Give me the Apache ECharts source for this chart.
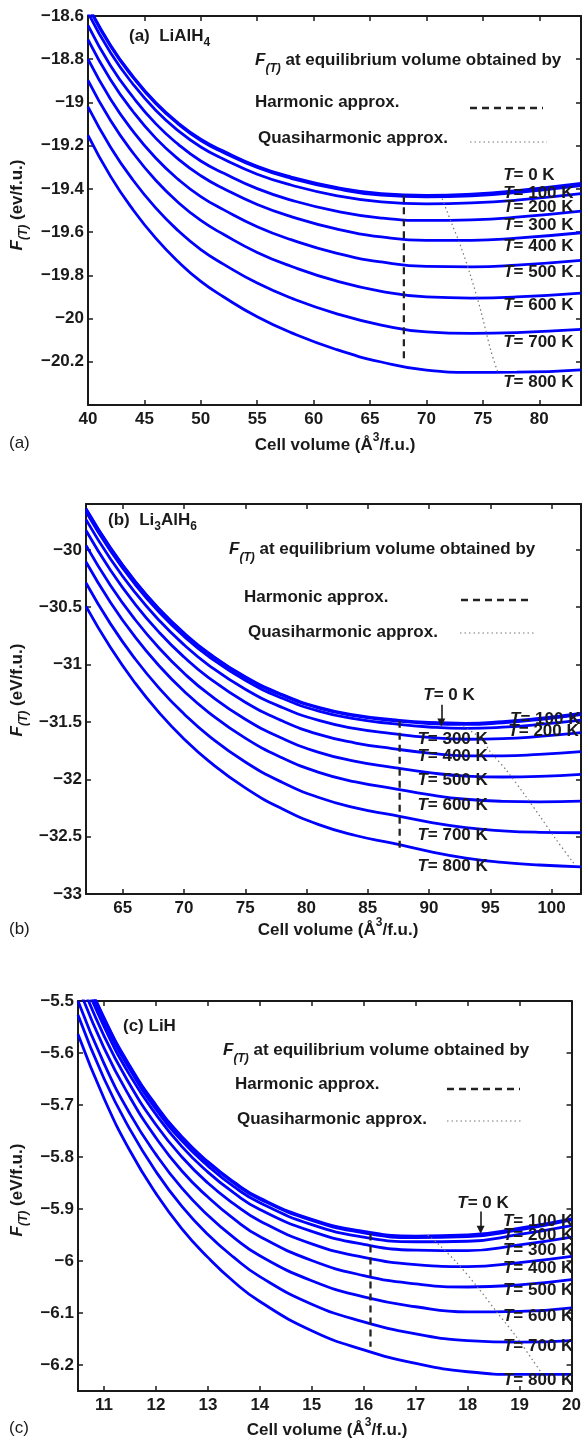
<!DOCTYPE html>
<html><head><meta charset="utf-8">
<script src="https://cdn.jsdelivr.net/npm/echarts@6/dist/echarts.min.js"></script>
<style>html,body{margin:0;padding:0;background:#fff}#c{width:584px;height:1439px}</style>
</head><body><div id="c"></div>
<script>
// ---------------- DATA ----------------
const temps = ['0','100','200','300','400','500','600','700','800'];

// (a) LiAlH4
const A_V = [40,42,44,46,48,50,52,55,58,62,66,70,74,78,83.7];
const A_T0   = [-18.55,-18.735,-18.88,-19.00,-19.095,-19.17,-19.225,-19.295,-19.345,-19.393,-19.422,-19.430,-19.424,-19.408,-19.375];
const A_T100 = [-18.555,-18.740,-18.885,-19.005,-19.100,-19.176,-19.231,-19.301,-19.351,-19.399,-19.429,-19.437,-19.432,-19.417,-19.385];
const A_T200 = [-18.585,-18.770,-18.916,-19.036,-19.131,-19.206,-19.262,-19.332,-19.382,-19.431,-19.460,-19.469,-19.465,-19.452,-19.422];
const A_T300 = [-18.643,-18.830,-18.976,-19.098,-19.194,-19.271,-19.327,-19.399,-19.452,-19.503,-19.535,-19.546,-19.543,-19.531,-19.503];
const A_T400 = [-18.709,-18.895,-19.043,-19.165,-19.262,-19.339,-19.398,-19.472,-19.528,-19.585,-19.622,-19.638,-19.638,-19.628,-19.603];
const A_T500 = [-18.800,-18.985,-19.134,-19.257,-19.356,-19.436,-19.496,-19.575,-19.635,-19.697,-19.738,-19.759,-19.761,-19.753,-19.731];
const A_T600 = [-18.898,-19.084,-19.234,-19.360,-19.463,-19.546,-19.610,-19.694,-19.758,-19.826,-19.874,-19.900,-19.905,-19.900,-19.882];
const A_T700 = [-19.021,-19.207,-19.360,-19.488,-19.594,-19.681,-19.748,-19.836,-19.905,-19.977,-20.030,-20.062,-20.069,-20.065,-20.050];
const A_T800 = [-19.152,-19.342,-19.497,-19.628,-19.737,-19.828,-19.899,-19.992,-20.065,-20.143,-20.201,-20.239,-20.249,-20.248,-20.237];
const A_harmV = [68, 68];
const A_harmF = [-19.43, -20.195];
const A_quasiV = [71.4, 72.2, 73.0, 73.9, 74.8, 75.7, 76.3];
const A_quasiF = [-19.445, -19.555, -19.66, -19.80, -19.96, -20.147, -20.245];
const A_labV = [76.8, 76.8, 76.8, 76.8, 76.8, 76.8, 76.8, 76.8, 76.8];
const A_labF = [-19.3375, -19.421, -19.484, -19.569, -19.665, -19.785, -19.939, -20.109, -20.294];

// (b) Li3AlH6
const B_V = [62,64,66,68,70,72,75,78,81,84,87,90,93,96,99,102.4];
const B_T0   = [-29.641,-29.982,-30.272,-30.517,-30.724,-30.898,-31.106,-31.261,-31.372,-31.440,-31.480,-31.505,-31.512,-31.497,-31.468,-31.425];
const B_T100 = [-29.646,-29.987,-30.277,-30.523,-30.730,-30.904,-31.112,-31.268,-31.379,-31.447,-31.488,-31.514,-31.522,-31.507,-31.479,-31.437];
const B_T200 = [-29.668,-30.010,-30.300,-30.546,-30.754,-30.928,-31.137,-31.293,-31.405,-31.474,-31.515,-31.544,-31.556,-31.546,-31.522,-31.484];
const B_T300 = [-29.736,-30.079,-30.371,-30.618,-30.827,-31.004,-31.215,-31.373,-31.487,-31.558,-31.601,-31.635,-31.651,-31.646,-31.626,-31.594];
const B_T400 = [-29.831,-30.177,-30.472,-30.722,-30.934,-31.113,-31.328,-31.490,-31.609,-31.684,-31.732,-31.771,-31.795,-31.796,-31.783,-31.759];
const B_T500 = [-29.961,-30.310,-30.607,-30.860,-31.075,-31.256,-31.476,-31.642,-31.765,-31.844,-31.896,-31.942,-31.972,-31.980,-31.975,-31.958];
const B_T600 = [-30.106,-30.458,-30.758,-31.014,-31.232,-31.416,-31.641,-31.812,-31.939,-32.023,-32.079,-32.134,-32.174,-32.192,-32.196,-32.191];
const B_T700 = [-30.289,-30.645,-30.949,-31.209,-31.430,-31.619,-31.849,-32.026,-32.159,-32.249,-32.311,-32.373,-32.422,-32.449,-32.462,-32.466];
const B_T800 = [-30.493,-30.852,-31.160,-31.423,-31.648,-31.840,-32.075,-32.257,-32.395,-32.490,-32.557,-32.628,-32.687,-32.724,-32.747,-32.763];
const B_harmV = [87.6, 87.6];
const B_harmF = [-31.49, -32.60];
const B_quasiV = [92.8, 94.2, 95.0, 96.3, 97.7, 99.1, 100.4, 101.8];
const B_quasiF = [-31.54, -31.64, -31.76, -31.92, -32.12, -32.33, -32.53, -32.73];
const B_arrowV = [91.0, 91.0];
const B_arrowF = [-31.35, -31.505];
const B_labV = [89.53, 96.61, 96.47, 89.05, 89.05, 89.05, 89.05, 89.05, 89.05];
const B_labF = [-31.264, -31.473, -31.584, -31.65, -31.802, -32.005, -32.223, -32.485, -32.762];

// (c) LiH
const C_V = [10.5,11,11.5,12,12.5,13,13.5,14,15,16,17,18,19,20];
const C_T0   = [-5.416,-5.532,-5.625,-5.700,-5.761,-5.809,-5.848,-5.879,-5.920,-5.943,-5.952,-5.950,-5.937,-5.919];
const C_T100 = [-5.418,-5.534,-5.627,-5.702,-5.763,-5.811,-5.850,-5.881,-5.922,-5.946,-5.955,-5.953,-5.940,-5.921];
const C_T200 = [-5.423,-5.539,-5.632,-5.708,-5.769,-5.817,-5.857,-5.888,-5.930,-5.954,-5.963,-5.962,-5.949,-5.932];
const C_T300 = [-5.432,-5.549,-5.643,-5.718,-5.780,-5.829,-5.869,-5.901,-5.943,-5.968,-5.979,-5.980,-5.969,-5.954];
const C_T400 = [-5.449,-5.567,-5.661,-5.738,-5.800,-5.850,-5.890,-5.923,-5.967,-5.993,-6.007,-6.011,-6.003,-5.991];
const C_T500 = [-5.471,-5.590,-5.685,-5.763,-5.827,-5.877,-5.919,-5.953,-5.999,-6.028,-6.044,-6.050,-6.046,-6.036];
const C_T600 = [-5.500,-5.620,-5.717,-5.795,-5.860,-5.912,-5.955,-5.990,-6.038,-6.069,-6.088,-6.098,-6.097,-6.090];
const C_T700 = [-5.527,-5.649,-5.747,-5.828,-5.895,-5.949,-5.993,-6.030,-6.083,-6.117,-6.140,-6.153,-6.156,-6.153];
const C_T800 = [-5.564,-5.687,-5.788,-5.870,-5.938,-5.993,-6.040,-6.078,-6.134,-6.171,-6.197,-6.213,-6.218,-6.218];
const C_harmV = [16.13, 16.13];
const C_harmF = [-5.947, -6.165];
const C_quasiV = [17.23, 17.42, 17.80, 18.18, 18.56, 18.94, 19.26, 19.45];
const C_quasiF = [-5.95, -5.966, -6.004, -6.049, -6.098, -6.146, -6.192, -6.219];
const C_arrowV = [18.25, 18.25];
const C_arrowF = [-5.905, -5.94];
const C_labV = [17.80, 18.68, 18.68, 18.68, 18.68, 18.68, 18.68, 18.68, 18.68];
const C_labF = [-5.889, -5.9244, -5.95, -5.9788, -6.014, -6.0558, -6.1058, -6.1648, -6.2288];

// ---------------- STYLE / HELPERS ----------------
const FONT = '"Liberation Sans", Arial, Helvetica, sans-serif';
const INK = '#1a1a1a';
const BLUE = '#0000ff';
const mctx = document.createElement('canvas').getContext('2d');

function runParts(parts) {
  let cx = 0; const kids = [];
  parts.forEach(p => {
    const size = p.s || 17, weight = p.w || 'bold', fstyle = p.it ? 'italic' : 'normal';
    mctx.font = fstyle + ' ' + weight + ' ' + size + 'px ' + FONT;
    const w = mctx.measureText(p.t).width;
    kids.push({ type: 'text', x: cx, y: p.dy || 0, silent: true,
      style: { text: p.t, fontSize: size, fontWeight: weight, fontStyle: fstyle, fontFamily: FONT,
               fill: INK, align: 'left', textAlign: 'left', verticalAlign: 'middle', textVerticalAlign: 'middle' } });
    cx += w;
  });
  return { kids, width: cx };
}
function textGroup(x, y, parts, anchor, rot) {
  const r = runParts(parts);
  const off = anchor === 'center' ? -r.width / 2 : 0;
  r.kids.forEach(k => { k.x += off; });
  return { type: 'group', x: x, y: y, rotation: rot || 0, children: r.kids, silent: true };
}
function sampleLine(x1, x2, y, dotted) {
  return { type: 'line', silent: true, shape: { x1: x1, y1: y, x2: x2, y2: y },
    style: dotted ? { stroke: '#777', lineWidth: 1.2, lineDash: [1.5, 3] }
                  : { stroke: '#222', lineWidth: 2.3, lineDash: [7, 5] } };
}
function tickFmt(step, hide) {
  return function (v) {
    const k = Math.round(v / step);
    if (Math.abs(v - k * step) > step * 1e-3) return '';
    const val = +(k * step).toFixed(3);
    if (hide && hide.some(h => Math.abs(h - val) < 1e-6)) return '';
    return String(val).replace('-', '\u2212');
  };
}
const labelStyle = { fontSize: 17, fontWeight: 'bold', fontFamily: FONT, color: INK };

function axesPair(dim, gi, min, max, step, hide) {
  const base = { gridIndex: gi, type: 'value', min: min, max: max, minInterval: step, maxInterval: step,
    splitLine: { show: false },
    axisLine: { show: true, onZero: false, lineStyle: { color: INK, width: 2 } },
    axisTick: { show: true, inside: true, length: 5, lineStyle: { color: INK, width: 1.5 } } };
  const first = Object.assign({}, base, { position: dim === 'x' ? 'bottom' : 'left',
    axisLabel: Object.assign({}, labelStyle, { margin: dim === 'x' ? 6 : 4, formatter: tickFmt(step, hide) }) });
  const second = Object.assign({}, base, { position: dim === 'x' ? 'top' : 'right', axisLabel: { show: false } });
  return [first, second];
}

function panelSeries(ai, V, curves, harmV, harmF, quasiV, quasiF, labV, labF, arrowV, arrowF) {
  const list = [];
  curves.forEach(c => {
    list.push({ type: 'line', xAxisIndex: ai, yAxisIndex: ai, data: V.map((v, j) => [v, c[j]]),
      smooth: 0.5, symbol: 'none', showSymbol: false, clip: true, silent: true, z: 2,
      lineStyle: { color: BLUE, width: 2.8 } });
  });
  list.push({ type: 'line', xAxisIndex: ai, yAxisIndex: ai, data: harmV.map((v, j) => [v, harmF[j]]),
    symbol: 'none', silent: true, z: 3, lineStyle: { color: '#222', width: 2.3, type: [7, 5] } });
  list.push({ type: 'line', xAxisIndex: ai, yAxisIndex: ai, data: quasiV.map((v, j) => [v, quasiF[j]]),
    symbol: 'none', silent: true, z: 3, smooth: 0.3, lineStyle: { color: '#777', width: 1.2, type: [1.5, 3] } });
  list.push({ type: 'scatter', xAxisIndex: ai, yAxisIndex: ai, symbolSize: 0, silent: true, z: 4,
    itemStyle: { color: INK },
    data: labV.map((v, i) => ({ value: [v, labF[i]], name: temps[i] })),
    label: { show: true, position: 'right', distance: 0, color: INK, opacity: 1,
      formatter: p => '{i|T}{n|= ' + p.name + ' K}',
      rich: { i: { fontStyle: 'italic', fontWeight: 'bold', fontSize: 17, fontFamily: FONT, color: INK },
              n: { fontWeight: 'bold', fontSize: 17, fontFamily: FONT, color: INK } } } });
  if (arrowV) {
    list.push({ type: 'line', xAxisIndex: ai, yAxisIndex: ai, data: [], silent: true, z: 4,
      markLine: { silent: true, symbol: ['none', 'triangle'], symbolSize: 8, symbolRotate: 180, animation: false,
        label: { show: false }, lineStyle: { color: INK, width: 1.6, type: 'solid', opacity: 1 },
        itemStyle: { color: INK },
        data: [[{ coord: [arrowV[0], arrowF[0]] }, { coord: [arrowV[1], arrowF[1]] }]] } });
  }
  return list;
}

const xA = axesPair('x', 0, 40, 83.7, 5, []);
const yA = axesPair('y', 0, -20.4, -18.6, 0.2, [-20.4]);
const xB = axesPair('x', 1, 62, 102.4, 5, []);
const yB = axesPair('y', 1, -33, -29.6, 0.5, []);
const xC = axesPair('x', 2, 10.5, 20, 1, []);
const yC = axesPair('y', 2, -6.25, -5.5, 0.1, []);

const series = [].concat(
  panelSeries(0, A_V, [A_T0,A_T100,A_T200,A_T300,A_T400,A_T500,A_T600,A_T700,A_T800], A_harmV, A_harmF, A_quasiV, A_quasiF, A_labV, A_labF),
  panelSeries(2, B_V, [B_T0,B_T100,B_T200,B_T300,B_T400,B_T500,B_T600,B_T700,B_T800], B_harmV, B_harmF, B_quasiV, B_quasiF, B_labV, B_labF, B_arrowV, B_arrowF),
  panelSeries(4, C_V, [C_T0,C_T100,C_T200,C_T300,C_T400,C_T500,C_T600,C_T700,C_T800], C_harmV, C_harmF, C_quasiV, C_quasiF, C_labV, C_labF, C_arrowV, C_arrowF)
);

const ROT = Math.PI / 2;
const legendTop = [{ t: 'F', it: true }, { t: '(T)', it: true, s: 12, dy: 9 }, { t: ' at equilibrium volume obtained by' }];
const xName = [{ t: 'Cell volume (\u00C5' }, { t: '3', s: 12, dy: -7 }, { t: '/f.u.)' }];
const graphic = [
  // panel a
  textGroup(129, 36, [{ t: '(a)  LiAlH' }, { t: '4', s: 12, dy: 7 }]),
  textGroup(255, 60, legendTop),
  textGroup(255, 102, [{ t: 'Harmonic approx.' }]),
  sampleLine(470, 543, 108, false),
  textGroup(258, 138, [{ t: 'Quasiharmonic approx.' }]),
  sampleLine(470, 547, 142, true),
  textGroup(17, 205, [{ t: 'F', it: true }, { t: '(T)', it: true, s: 12, dy: 7 }, { t: ' (ev/f.u.)' }], 'center', ROT),
  textGroup(335, 445, xName, 'center'),
  textGroup(9, 443, [{ t: '(a)', w: 'normal' }]),
  // panel b
  textGroup(108, 520, [{ t: '(b)  Li' }, { t: '3', s: 12, dy: 7 }, { t: 'AlH' }, { t: '6', s: 12, dy: 7 }]),
  textGroup(229, 549, legendTop),
  textGroup(244, 597, [{ t: 'Harmonic approx.' }]),
  sampleLine(461, 533, 600, false),
  textGroup(248, 632, [{ t: 'Quasiharmonic approx.' }]),
  sampleLine(460, 536, 633, true),
  textGroup(17, 690, [{ t: 'F', it: true }, { t: '(T)', it: true, s: 12, dy: 7 }, { t: ' (eV/f.u.)' }], 'center', ROT),
  textGroup(338, 930, xName, 'center'),
  textGroup(9, 929, [{ t: '(b)', w: 'normal' }]),
  // panel c
  textGroup(123, 1026, [{ t: '(c) LiH' }]),
  textGroup(223, 1050, legendTop),
  textGroup(235, 1084, [{ t: 'Harmonic approx.' }]),
  sampleLine(447, 520, 1089, false),
  textGroup(237, 1119, [{ t: 'Quasiharmonic approx.' }]),
  sampleLine(447, 523, 1121, true),
  textGroup(17, 1190, [{ t: 'F', it: true }, { t: '(T)', it: true, s: 12, dy: 7 }, { t: ' (eV/f.u.)' }], 'center', ROT),
  textGroup(327, 1430, xName, 'center'),
  textGroup(9, 1428, [{ t: '(c)', w: 'normal' }])
];

const option = {
  animation: false,
  backgroundColor: '#ffffff',
  grid: [
    { left: 88, top: 16, width: 494, height: 389 },
    { left: 86, top: 504, width: 495, height: 390 },
    { left: 78, top: 1001, width: 498, height: 390 }
  ],
  xAxis: [].concat(xA, xB, xC),
  yAxis: [].concat(yA, yB, yC),
  series: series,
  graphic: graphic
};

const chart = echarts.init(document.getElementById('c'), null, { renderer: 'canvas' });
chart.setOption(option);
</script>
</body></html>
